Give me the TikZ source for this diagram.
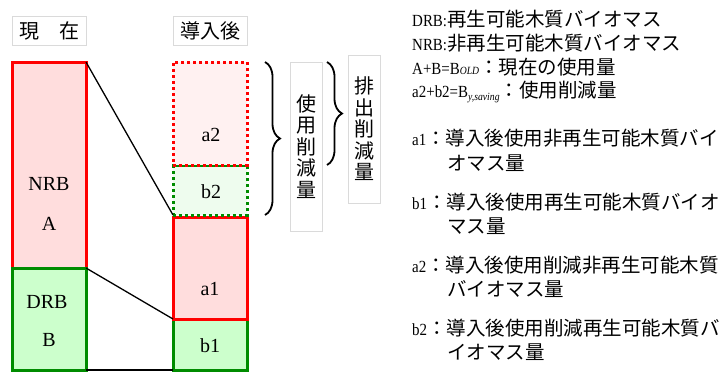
\documentclass[tikz,border=0pt]{standalone}
\usepackage{fontspec}
\setmainfont{Liberation Serif}
\newfontfamily\cjk{Noto Sans CJK JP}
\newfontfamily\latc[FakeStretch=0.88]{Liberation Serif}
\usetikzlibrary{decorations.pathreplacing}
\definecolor{nrbfill}{RGB}{255,221,221}
\definecolor{drbfill}{RGB}{204,255,204}
\definecolor{redline}{RGB}{255,0,0}
\definecolor{greenline}{RGB}{0,140,0}
\definecolor{afill}{RGB}{255,241,241}
\definecolor{bfill}{RGB}{238,252,238}
\definecolor{framegray}{RGB}{218,218,218}
\newcommand\jp[1]{{\fontsize{19.5}{25}\selectfont\cjk #1}}
\begin{document}
\begin{tikzpicture}[x=1pt,y=-1pt,
  box/.style={rectangle, inner sep=0pt, outer sep=0pt, line width=3pt, minimum width=74pt},
  solidred/.style={box, draw=redline, fill=nrbfill},
  solidgreen/.style={box, draw=greenline, fill=drbfill},
  dotred/.style={box, draw=redline, fill=afill, dash pattern=on 3pt off 3pt},
  dotgreen/.style={box, draw=greenline, fill=bfill, dash pattern=on 3pt off 3pt},
  lbl/.style={inner sep=0pt, font=\fontsize{20}{20}\selectfont},
  frame/.style={draw=framegray, line width=0.8pt, inner sep=0pt, minimum width=32pt, align=center, font=\fontsize{20}{21.5}\selectfont\cjk},
  head/.style={draw=framegray, line width=0.8pt, inner sep=0pt, minimum width=74pt, minimum height=29pt, font=\fontsize{20}{20}\selectfont\cjk},
  conn/.style={line width=1.3pt, black},
  curly/.style={line width=1.8pt, black, decorate, decoration={brace, amplitude=15pt}},
  legend/.style={anchor=base west, inner sep=0pt, yshift=-7.5pt, font=\fontsize{17}{25}\selectfont\latc}
]
\useasboundingbox (0,0) rectangle (727,381);
% headers
\node[head] (hnow) at (49,30.5) {現\hspace{20pt}在};
\node[head] (hafter) at (210,30.5) {導入後};
% left column
\node[solidred, minimum height=206pt] (nrb) at (49,165) {};
\node[solidgreen, minimum height=102pt] (drb) at (49,319) {};
% right column
\node[solidgreen, minimum height=51pt] (b1) at (210,344.5) {};
\node[solidred, minimum height=102pt] (a1) at (210,268) {};
\node[dotgreen, minimum height=50pt] (b2) at (210,190) {};
\node[dotred, minimum height=103pt] (a2) at (210,113.5) {};
% labels
\node[lbl] (tnrb) at (49,184) {NRB};
\node[lbl] (ta) at (49,224) {A};
\node[lbl] (tdrb) at (47,302) {DRB};
\node[lbl] (tb) at (49,340) {B};
\node[lbl] (ta2) at (211,135) {a2};
\node[lbl] (tb2) at (211,192) {b2};
\node[lbl] (ta1) at (210,289) {a1};
\node[lbl] (tb1) at (210,346) {b1};
% connectors
\draw[conn] (nrb.north east) -- (b2.south west);
\draw[conn] (drb.north east) -- (b1.north west);
\draw[conn] (drb.south east) -- (b1.south west);
% braces
\coordinate (br1s) at (265,62);
\coordinate (br1e) at (265,215);
\coordinate (br2s) at (327,62);
\coordinate (br2e) at (327,165);
\draw[curly] (br1s) -- (br1e);
\draw[curly] (br2s) -- (br2e);
% vertical labels
\node[frame, minimum height=169pt] (use) at (306,146.5) {使\\用\\削\\減\\量};
\node[frame, minimum height=148pt] (emit) at (364,129) {排\\出\\削\\減\\量};
% legend
\node[legend] (l1) at (412,19) {DRB:\jp{再生可能木質バイオマス}};
\node[legend] (l2) at (412,43) {NRB:\jp{非再生可能木質バイオマス}};
\node[legend] (l3) at (412,67) {A+B=B{\fontsize{11}{11}\selectfont\itshape OLD}\jp{：現在の使用量}};
\node[legend] (l4) at (412,90) {a2+b2=B\raisebox{-3pt}{\fontsize{11}{11}\selectfont\itshape y,saving}\jp{：使用削減量}};
\node[legend] (d1a) at (412,138) {a1\jp{：導入後使用非再生可能木質バイ}};
\node[legend] (d1b) at (447,163) {\jp{オマス量}};
\node[legend] (d2a) at (412,202) {b1\jp{：導入後使用再生可能木質バイオ}};
\node[legend] (d2b) at (447,226) {\jp{マス量}};
\node[legend] (d3a) at (412,265) {a2\jp{：導入後使用削減非再生可能木質}};
\node[legend] (d3b) at (447,289) {\jp{バイオマス量}};
\node[legend] (d4a) at (412,328) {b2\jp{：導入後使用削減再生可能木質バ}};
\node[legend] (d4b) at (447,352) {\jp{イオマス量}};
\end{tikzpicture}
\end{document}
